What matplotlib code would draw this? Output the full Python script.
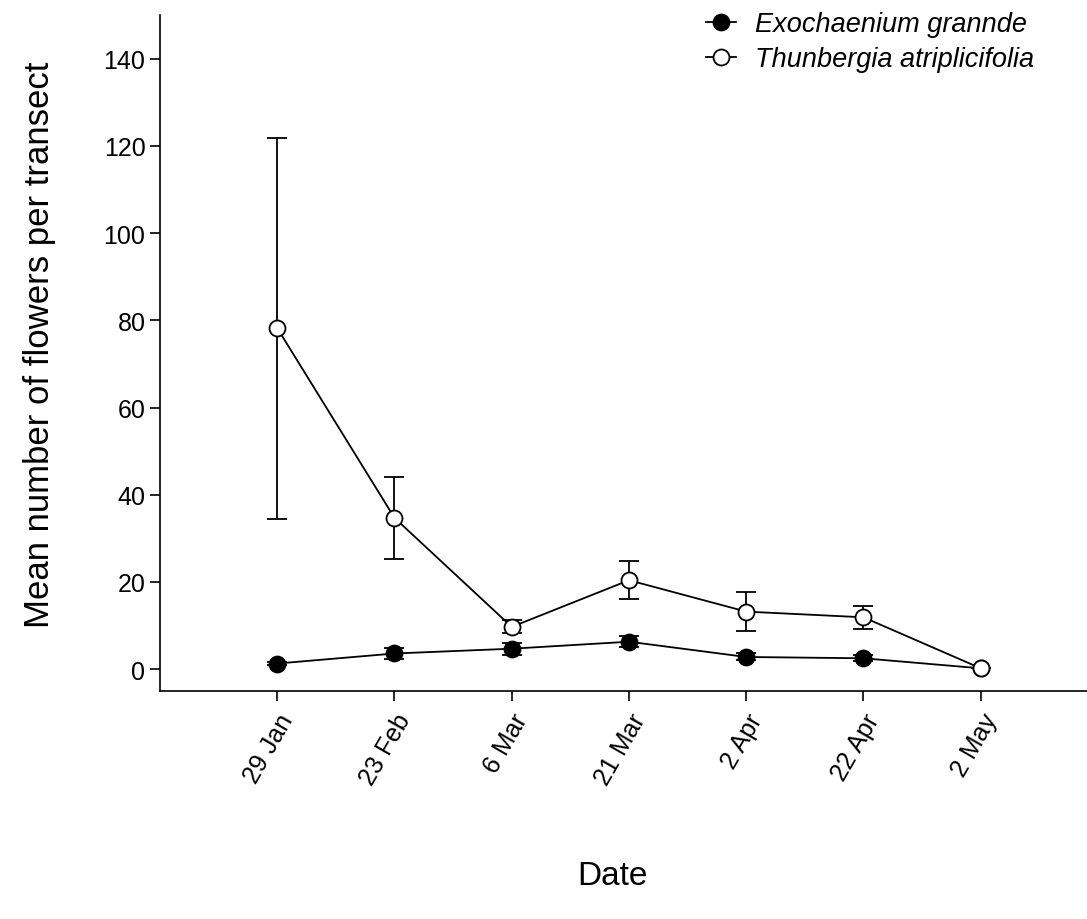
import matplotlib.pyplot as plt
from matplotlib.legend_handler import HandlerLine2D

plt.rcParams['font.family'] = ['Liberation Sans', 'DejaVu Sans']

dates = ['29 Jan', '23 Feb', '6 Mar', '21 Mar', '2 Apr', '22 Apr', '2 May']

# Exochaenium grannde (filled)
exo_mean = [1.3, 3.6, 4.7, 6.3, 2.8, 2.5, 0.2]
exo_err = [0.4, 1.2, 1.4, 1.3, 0.8, 0.7, 0.0]

# Thunbergia atriplicifolia (open)
thu_mean = [78.2, 34.7, 9.7, 20.4, 13.2, 11.9, 0.2]
thu_err = [43.7, 9.4, 1.5, 4.3, 4.4, 2.6, 0.0]


class MarkerLeft(HandlerLine2D):
    # marker at the left end of the legend line, like the original
    def get_xdata(self, legend, xdescent, ydescent, width, height, fontsize):
        xdata = [-xdescent, -xdescent + width]
        return xdata, [-xdescent]


fig = plt.figure(figsize=(10.87, 9.2), dpi=100)
ax = fig.add_axes([160 / 1087, 228 / 920, 938 / 1087, 676 / 920])

x = list(range(1, len(dates) + 1))

l1 = ax.errorbar(x, exo_mean, yerr=exo_err, color='black', lw=1.3,
                 marker='o', ms=11.5, mfc='black', mec='black', mew=1.3,
                 capsize=7, capthick=1.3, elinewidth=1.3, zorder=3)
l2 = ax.errorbar(x, thu_mean, yerr=thu_err, color='black', lw=1.3,
                 marker='o', ms=11.5, mfc='white', mec='black', mew=1.3,
                 capsize=7, capthick=1.3, elinewidth=1.3, zorder=4)

ax.set_xlim(0, 8)
ax.set_ylim(-5, 150)
ax.set_yticks(range(0, 141, 20))
ax.set_xticks(x)
ax.set_xticklabels(dates, rotation=60, ha='right', rotation_mode='anchor')

for s in ['top', 'right']:
    ax.spines[s].set_visible(False)
for s in ['left', 'bottom']:
    ax.spines[s].set_linewidth(1.2)
ax.tick_params(direction='out', length=7, width=1.2, labelsize=18)
ax.tick_params(axis='x', pad=6)

fig.text(40 / 1087, 1 - 345 / 920, 'Mean number of flowers per transect',
         fontsize=25, rotation=90, ha='center', va='center')
fig.text(612 / 1087, 1 - 877 / 920, 'Date', fontsize=24, ha='center', va='center')

h1 = l1.lines[0]
h2 = l2.lines[0]
fig.legend([h1, h2], ['Exochaenium grannde', 'Thunbergia atriplicifolia'],
           loc='upper left', bbox_to_anchor=(706 / 1087, 1 - 12 / 920),
           frameon=False, borderpad=0, borderaxespad=0,
           handlelength=1.1, handletextpad=0.7, labelspacing=0.35,
           prop={'size': 19.5, 'style': 'italic'},
           handler_map={h1: MarkerLeft(), h2: MarkerLeft()})

fig.savefig('out.png', dpi=100)
